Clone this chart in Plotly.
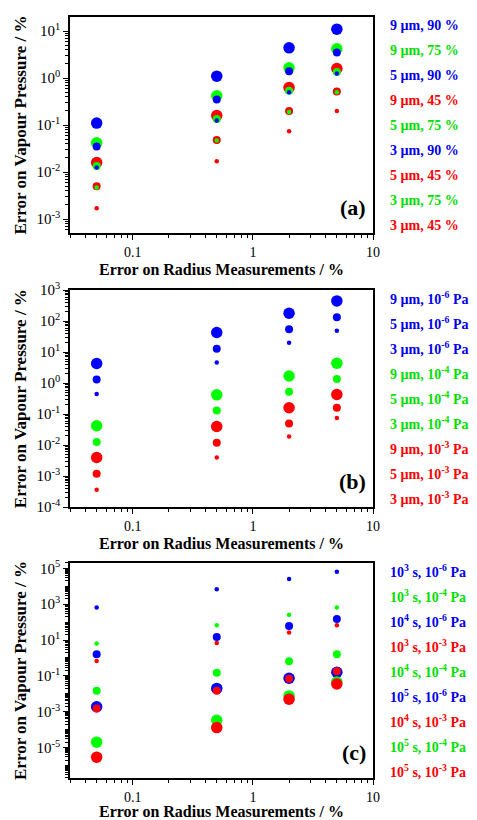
import plotly.graph_objects as go

x_vals = [0.05, 0.5, 2, 5]

# Panel (a): radius, humidity
a_labels = ["9 µm, 90 %", "9 µm, 75 %", "5 µm, 90 %", "9 µm, 45 %", "5 µm, 75 %",
            "3 µm, 90 %", "5 µm, 45 %", "3 µm, 75 %", "3 µm, 45 %"]
a_colors = ["blue", "green", "blue", "red", "green", "blue", "red", "green", "red"]
a_sizes = ["L", "L", "M", "L", "M", "S", "M", "S", "S"]
a_values = [
    [0.11, 1.1, 4.4, 11],
    [0.042, 0.42, 1.65, 4.2],
    [0.035, 0.35, 1.4, 3.5],
    [0.016, 0.16, 0.63, 1.6],
    [0.0135, 0.135, 0.54, 1.35],
    [0.0125, 0.125, 0.5, 1.25],
    [0.005, 0.048, 0.2, 0.52],
    [0.0047, 0.047, 0.19, 0.5],
    [0.0017, 0.017, 0.074, 0.2],
]

# Panel (b): radius, vapour pressure
b_labels = ["9 µm, 10<sup>-6</sup> Pa", "5 µm, 10<sup>-6</sup> Pa", "3 µm, 10<sup>-6</sup> Pa",
            "9 µm, 10<sup>-4</sup> Pa", "5 µm, 10<sup>-4</sup> Pa", "3 µm, 10<sup>-4</sup> Pa",
            "9 µm, 10<sup>-3</sup> Pa", "5 µm, 10<sup>-3</sup> Pa", "3 µm, 10<sup>-3</sup> Pa"]
b_colors = ["blue", "blue", "blue", "green", "green", "green", "red", "red", "red"]
b_sizes = ["L", "M", "S", "L", "M", "S", "L", "M", "S"]
b_values = [
    [4.3, 43, 180, 450],
    [1.3, 13, 55, 135],
    [0.45, 4.6, 20, 49],
    [0.042, 0.42, 1.7, 4.4],
    [0.0125, 0.13, 0.53, 1.35],
    [0.0047, 0.045, 0.18, 0.5],
    [0.004, 0.04, 0.16, 0.43],
    [0.0012, 0.012, 0.05, 0.16],
    [0.00036, 0.004, 0.019, 0.075],
]

# Panel (c): time, vapour pressure
c_labels = ["10<sup>3</sup> s, 10<sup>-6</sup> Pa", "10<sup>3</sup> s, 10<sup>-4</sup> Pa",
            "10<sup>4</sup> s, 10<sup>-6</sup> Pa", "10<sup>3</sup> s, 10<sup>-3</sup> Pa",
            "10<sup>4</sup> s, 10<sup>-4</sup> Pa", "10<sup>5</sup> s, 10<sup>-6</sup> Pa",
            "10<sup>4</sup> s, 10<sup>-3</sup> Pa", "10<sup>5</sup> s, 10<sup>-4</sup> Pa",
            "10<sup>5</sup> s, 10<sup>-3</sup> Pa"]
c_colors = ["blue", "green", "blue", "red", "green", "blue", "red", "green", "red"]
c_sizes = ["S", "S", "M", "S", "M", "L", "M", "L", "L"]
c_values = [
    [660, 6800, 26000, 65000],
    [6.5, 66, 260, 660],
    [1.6, 15, 60, 150],
    [0.68, 6.8, 26, 66],
    [0.015, 0.15, 0.65, 1.6],
    [0.0019, 0.02, 0.074, 0.16],
    [0.0015, 0.015, 0.07, 0.18],
    [2e-5, 3.3e-4, 0.0076, 0.045],
    [2.9e-6, 1.3e-4, 0.005, 0.035],
]

panel_tags = ["(a)", "(b)", "(c)"]
x_title = "Error on Radius Measurements / %"
y_title = "Error on Vapour Pressure / %"
y_ranges = [[-3.3, 1.3], [-4, 3], [-6.7, 5.3]]
y_major = [list(range(-3, 2)), list(range(-4, 4)), list(range(-5, 6, 2))]
title_shift = [-36, -36, -33]

color_map = {"blue": "#0000FF", "green": "#00FF00", "red": "#FF0000"}
text_color_map = {"blue": "#0000EE", "green": "#00E000", "red": "#FF0000"}
size_map = {"L": 11.5, "M": 8, "S": 4.5}

domains = [[0.716, 1.0], [0.356, 0.641], [0.0, 0.2825]]

FONT = "Liberation Serif"

fig = go.Figure()
panels = [(a_labels, a_colors, a_sizes, a_values),
          (b_labels, b_colors, b_sizes, b_values),
          (c_labels, c_colors, c_sizes, c_values)]

x_minor = [m * 10 ** e for e in (-2, -1, 0) for m in range(2, 10)]

for p, (labels, colors, sizes, values) in enumerate(panels):
    xa = "x" if p == 0 else f"x{p+1}"
    ya = "y" if p == 0 else f"y{p+1}"
    for lab, col, sz, vals in zip(labels, colors, sizes, values):
        fig.add_trace(go.Scatter(
            x=x_vals, y=vals, mode="markers", name=lab, showlegend=False,
            marker=dict(color=color_map[col], size=size_map[sz], line=dict(width=0)),
            xaxis=xa, yaxis=ya))
    # legend-like coloured labels
    for i, (lab, col) in enumerate(zip(labels, colors)):
        fig.add_annotation(
            xref=f"{xa} domain", yref=f"{ya} domain", x=1, y=1,
            xshift=15, yshift=-(8 + 25 * i), xanchor="left", yanchor="middle",
            text=f"<b>{lab}</b>", showarrow=False,
            font=dict(family=FONT, size=14, color=text_color_map[col]))
    fig.add_annotation(
        xref=f"{xa} domain", yref=f"{ya} domain", x=0.985, y=0.05,
        xanchor="right", yanchor="bottom", text=f"<b>{panel_tags[p]}</b>",
        showarrow=False, font=dict(family=FONT, size=22, color="black"))
    # x axis title
    fig.add_annotation(
        xref=f"{xa} domain", yref=f"{ya} domain", x=0.5, y=0,
        yshift=title_shift[p], xanchor="center", yanchor="middle",
        text=f"<b>{x_title}</b>",
        showarrow=False, font=dict(family=FONT, size=16, color="black"))

    lo, hi = y_ranges[p]
    majors = y_major[p]
    yminor = []
    for e in range(int(lo) - 1, int(hi) + 2):
        for m in range(1, 10):
            if m == 1 and e in majors:
                continue
            yminor.append(m * 10 ** e)
    axis_common = dict(type="log", showline=True, linecolor="black", linewidth=1.5,
                       mirror=True, ticks="outside", tickcolor="black", tickwidth=1.3,
                       ticklen=5, showgrid=False, zeroline=False, automargin=False)
    xkey = "xaxis" if p == 0 else f"xaxis{p+1}"
    ykey = "yaxis" if p == 0 else f"yaxis{p+1}"
    fig.update_layout(**{
        xkey: dict(axis_common, range=[-1.523, 1], anchor=ya,
                   tickfont=dict(family=FONT, size=14, color="black"),
                   tickvals=[0.1, 1, 10], ticktext=["0.1", "1", "10"],
                   minor=dict(tickvals=x_minor, ticks="outside", ticklen=3,
                              tickcolor="black", tickwidth=1.3)),
        ykey: dict(axis_common, range=[lo, hi], anchor=xa, domain=domains[p],
                   tickfont=dict(family=FONT, size=15, color="black"),
                   tickvals=[10 ** e for e in majors],
                   ticktext=[f"10<sup>{e}</sup>" for e in majors],
                   minor=dict(tickvals=yminor, ticks="outside", ticklen=3,
                              tickcolor="black", tickwidth=1.3),
                   title=dict(text=f"<b>{y_title}</b>",
                              font=dict(family=FONT, size=17, color="black"),
                              standoff=6)),
    })

fig.update_layout(width=477, height=820, margin=dict(l=70, r=104, t=17, b=42),
                  plot_bgcolor="white", paper_bgcolor="white", showlegend=False)

fig.write_html("out.html")
